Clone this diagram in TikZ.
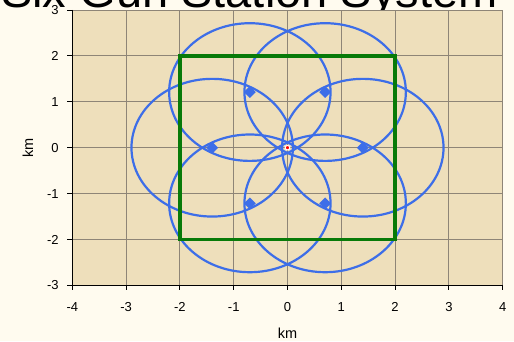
\documentclass[tikz,border=0pt]{standalone}
\usepackage{fontspec}
\setmainfont{Liberation Sans}
\usetikzlibrary{shapes.geometric}
\definecolor{bgcream}{HTML}{FFFBEF}
\definecolor{parch}{HTML}{EEDFBB}
\definecolor{gridc}{HTML}{8E8577}
\definecolor{rangeblue}{HTML}{3D6EE8}
\definecolor{boxgreen}{HTML}{087A08}
\begin{document}
\begin{tikzpicture}[x=1pt,y=1pt,
  gridline/.style={draw=gridc, line width=0.9pt},
  axisline/.style={draw=black, line width=0.9pt},
  rangering/.style={draw=rangeblue, line width=2.2pt},
  zonebox/.style={draw=boxgreen, line width=3.4pt},
  station/.style={diamond, fill=rangeblue, inner sep=0pt, minimum width=12pt, minimum height=12pt},
  ticklab/.style={font=\fontsize{13}{13}\selectfont, inner sep=0pt},
  axlab/.style={font=\fontsize{14.5}{14.5}\selectfont, inner sep=0pt}]
\fill[bgcream] (0,0) rectangle (514,341);
\useasboundingbox (0,0) rectangle (514,341);
\node[anchor=base west, inner sep=0pt, font=\fontsize{47}{47}\selectfont] (title) at (1,333) {Six Gun Station System};
\begin{scope}[shift={(287.5,193.3)}, x=53.8pt, y=45.9pt]
  \fill[parch] (-4,-3) rectangle (4,3);
  \foreach \v in {-3,...,4} \draw[gridline] (\v,-3) -- (\v,3);
  \foreach \v in {-2,...,3} \draw[gridline] (-4,\v) -- (4,\v);
  \draw[axisline] (-4,3) -- (-4,-3) -- (4,-3);
  \foreach \v in {-3,...,3} {
    \draw[axisline] (-4,\v) -- ++(-5pt,0);
    \node[ticklab, anchor=east] at ([xshift=-13.5pt]-4,\v) {\v};
  }
  \foreach \v in {-4,...,4} {
    \draw[axisline] (\v,-3) -- ++(0,-5pt);
    \node[ticklab, anchor=base] at ([yshift=-26.4pt]\v,-3) {\v};
  }
  \node[axlab, anchor=base] (xlab) at ([yshift=-53.5pt]0,-3) {km};
  \node[axlab, anchor=base, rotate=90] (ylab) at ([xshift=-39.3pt]-4,0) {km};
  \foreach \i/\a in {1/0,2/60,3/120,4/180,5/240,6/300}
    \coordinate (c\i) at ({1.4*cos(\a)},{1.4*sin(\a)});
  \foreach \i in {1,...,6}
    \draw[rangering] (c\i) ellipse [x radius=80.7pt, y radius=68.85pt];
  \draw[zonebox] (-2,-2) rectangle (2,2);
  \foreach \i in {1,...,6}
    \node[station] (s\i) at (c\i) {};
  \node[circle, fill=red, draw=white, line width=1pt, inner sep=0pt, minimum size=4.5pt] (hq) at (0,0) {};
\end{scope}
\end{tikzpicture}
\end{document}
